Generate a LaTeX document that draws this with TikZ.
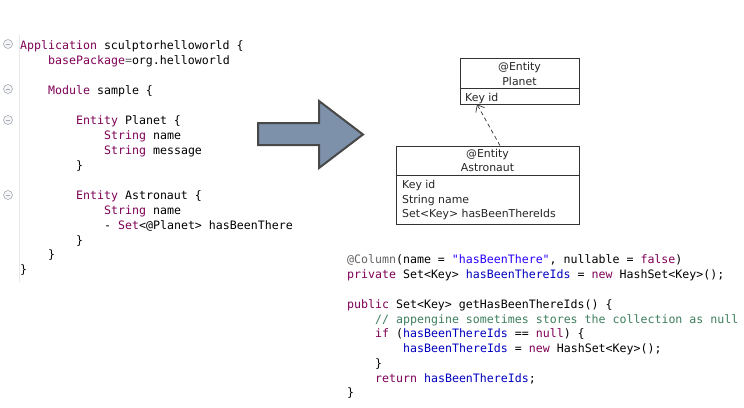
\documentclass[tikz,border=0pt]{standalone}
\usepackage{fontspec}
\setmonofont{DejaVu Sans Mono}
\newfontfamily\umlfont{DejaVu Sans}
\usetikzlibrary{arrows.meta}
\definecolor{kw}{HTML}{7F0055}
\definecolor{fld}{HTML}{0000C0}
\definecolor{str}{HTML}{2A00FF}
\definecolor{cmt}{HTML}{3F7F5F}
\definecolor{ann}{HTML}{646464}
\definecolor{arrowfill}{HTML}{7D91AA}
\definecolor{arrowline}{HTML}{484848}
\definecolor{umlline}{HTML}{333333}
\definecolor{folds}{HTML}{A4ABB8}
\newcommand{\K}[1]{\textcolor{kw}{#1}}
\newcommand{\F}[1]{\textcolor{fld}{#1}}
\begin{document}
\begin{tikzpicture}[x=1pt,y=-1pt,
  code/.style={anchor=base west, inner sep=0pt, font=\ttfamily\fontsize{11.6}{14}\selectfont},
  fold/.style={circle, draw=folds, fill=gray!8, line width=0.6pt, minimum size=9pt, inner sep=0pt},
  umlbox/.style={draw=umlline, line width=0.8pt, fill=white, inner sep=0pt},
  umltext/.style={inner sep=0pt, text=black!85, font=\umlfont\fontsize{10.9}{13}\selectfont},
  bigarrow/.style={fill=arrowfill, draw=arrowline, line width=2pt, line join=miter}]
\useasboundingbox (0,0) rectangle (744,407);
\fill[white] (0,0) rectangle (744,407);
% gutter
\draw[gray!18, line width=0.8pt] (19.5,35) coordinate (g1) -- (19.5,282) coordinate (g2);
% fold markers
\foreach \yy/\nm in {44/f1, 89/f2, 120/f3, 195/f4}{
  \node[fold] (\nm) at (8,\yy) {};
  \draw[folds, line width=0.7pt] ([xshift=-2.3pt]\nm.center) -- ([xshift=2.3pt]\nm.center);
}
% left code
\node[code] (l0) at (20,49) {\K{Application} sculptorhelloworld \{};
\node[code] (l1) at (48,64) {\K{basePackage}\textcolor{ann}{=}org.helloworld};
\node[code] (l3) at (48,94) {\K{Module} sample \{};
\node[code] (l5) at (76,124) {\K{Entity} Planet \{};
\node[code] (l6) at (104,139) {\K{String} name};
\node[code] (l7) at (104,154) {\K{String} message};
\node[code] (l8) at (76,169) {\}};
\node[code] (l10) at (76,199) {\K{Entity} Astronaut \{};
\node[code] (l11) at (104,214) {\K{String} name};
\node[code] (l12) at (104,229) {- \K{Set}<@Planet> hasBeenThere};
\node[code] (l13) at (76,244) {\}};
\node[code] (l14) at (48,258) {\}};
\node[code] (l15) at (20,273) {\}};
% big arrow
\draw[bigarrow] (258,123) coordinate (a1) -- (319,123) -- (319,101) -- (363,134.5) coordinate (atip) -- (319,168) -- (319,145) -- (258,145) -- cycle;
% UML Planet
\node[umlbox, minimum width=119pt, minimum height=46pt] (planet) at (519.5,81) {};
\draw[umlline, line width=0.8pt] (planet.west |- 0,88) coordinate (pd1) -- (planet.east |- 0,88) coordinate (pd2);
\node[umltext] (pe) at (519.5,67) {@Entity};
\node[umltext] (pn) at (519.5,81) {Planet};
\node[umltext, anchor=base west] (pk) at (465,101) {Key id};
% UML Astronaut
\node[umlbox, minimum width=183pt, minimum height=78pt] (astro) at (487.5,185) {};
\draw[umlline, line width=0.8pt] (astro.west |- 0,175) coordinate (ad1) -- (astro.east |- 0,175) coordinate (ad2);
\node[umltext] (ae) at (487.5,154.5) {@Entity};
\node[umltext] (an) at (487.5,168) {Astronaut};
\node[umltext, anchor=base west] (ak) at (402,188) {Key id};
\node[umltext, anchor=base west] (as) at (402,203) {String name};
\node[umltext, anchor=base west] (ah) at (402,217.5) {Set<Key> hasBeenThereIds};
% dependency
\draw[umlline, line width=0.7pt, dash pattern=on 4pt off 3pt, -{Straight Barb[length=6pt,width=10pt]}]
  ([xshift=12.5pt]astro.north) -- ([xshift=-42.5pt]planet.south);
% right code
\node[code] (r0) at (347,263) {\textcolor{ann}{@Column}(name = \textcolor{str}{"hasBeenThere"}, nullable = \K{false})};
\node[code] (r1) at (347,278) {\K{private} Set<Key> \F{hasBeenThereIds} = \K{new} HashSet<Key>();};
\node[code] (r3) at (347,308) {\K{public} Set<Key> getHasBeenThereIds() \{};
\node[code] (r4) at (375,323) {\textcolor{cmt}{// appengine sometimes stores the collection as null}};
\node[code] (r5) at (375,337.5) {\K{if} (\F{hasBeenThereIds} == \K{null}) \{};
\node[code] (r6) at (403,352.5) {\F{hasBeenThereIds} = \K{new} HashSet<Key>();};
\node[code] (r7) at (375,367) {\}};
\node[code] (r8) at (375,382) {\K{return} \F{hasBeenThereIds};};
\node[code] (r9) at (347,396.5) {\}};
\end{tikzpicture}
\end{document}
